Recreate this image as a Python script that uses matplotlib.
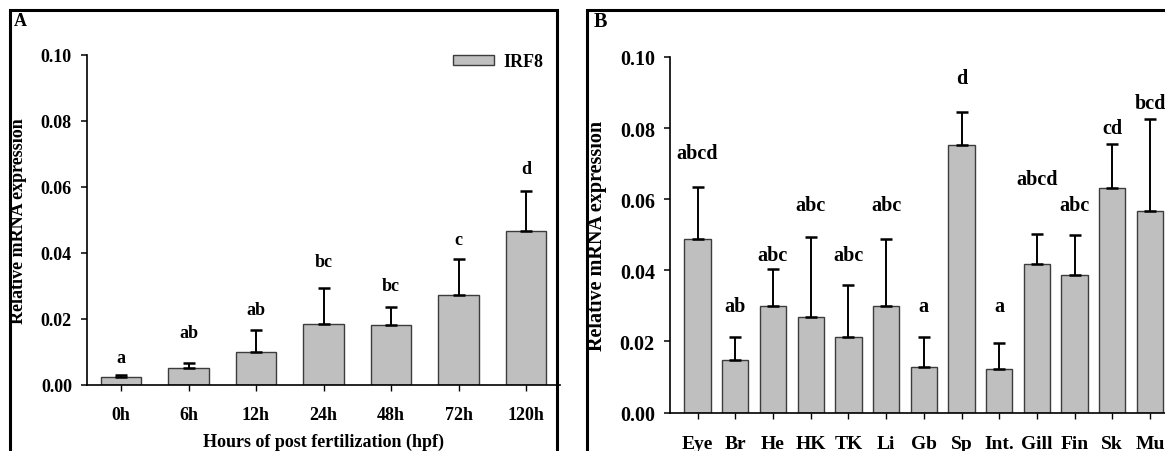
import matplotlib
matplotlib.use("Agg")
import matplotlib.pyplot as plt
from matplotlib.patches import Rectangle, Patch
import numpy as np

# ---------------- data ----------------
stages = ["0h", "6h", "12h", "24h", "48h", "72h", "120h"]
stage_mean = [0.0024, 0.0052, 0.0100, 0.0186, 0.0183, 0.0274, 0.0466]
stage_err = [0.0005, 0.0014, 0.0066, 0.0108, 0.0053, 0.0107, 0.0123]
stage_letters = ["a", "ab", "ab", "bc", "bc", "c", "d"]
stage_letter_y = [0.0083, 0.0158, 0.0229, 0.0373, 0.0301, 0.0442, 0.0657]

tissues = ["Eye", "Br", "He", "HK", "TK", "Li", "Gb", "Sp", "Int.", "Gill", "Fin", "Sk", "Mu"]
tissue_mean = [0.0489, 0.0148, 0.0300, 0.0269, 0.0211, 0.0300, 0.0129, 0.0752, 0.0121,
               0.0419, 0.0386, 0.0631, 0.0568]
tissue_err = [0.0145, 0.0063, 0.0103, 0.0224, 0.0149, 0.0189, 0.0084, 0.0092, 0.0075,
              0.0083, 0.0114, 0.0123, 0.0257]
tissue_letters = ["abcd", "ab", "abc", "abc", "abc", "abc", "a", "d", "a", "abcd", "abc", "cd", "bcd"]
tissue_letter_y = [0.0729, 0.0300, 0.0442, 0.0585, 0.0442, 0.0585, 0.0300, 0.0942, 0.0300,
                   0.0657, 0.0585, 0.0799, 0.0870]

yticks = [0.00, 0.02, 0.04, 0.06, 0.08, 0.10]
ytick_labels = ["0.00", "0.02", "0.04", "0.06", "0.08", "0.10"]
series_name = "IRF8"

# ---------------- style ----------------
plt.rcParams['font.family'] = ['Liberation Serif', 'DejaVu Serif']
plt.rcParams['font.weight'] = 'bold'
FS_A = 13
FS_B = 14.5
BAR_FC = "#bfbfbf"
BAR_EC = "#3c3c3c"

W, H = 1165, 452
fig = plt.figure(figsize=(W / 100, H / 100), dpi=100)


def fx(px):
    return px / W


def fy(py):
    return 1 - py / H


def style_axis(ax, xpad, fs):
    for s in ["top", "right"]:
        ax.spines[s].set_visible(False)
    for s in ["left", "bottom"]:
        ax.spines[s].set_linewidth(1.2)
        ax.spines[s].set_color("black")
    ax.set_ylim(0, 0.10)
    ax.set_yticks(yticks)
    ax.set_yticklabels(ytick_labels, fontsize=fs, fontweight='bold')
    ax.tick_params(axis='y', direction='out', length=4, width=1.1, pad=7)
    ax.tick_params(axis='x', direction='out', length=4, width=1.0, pad=xpad)
    ax.set_facecolor('none')


# ---------------- panel A ----------------
xa = np.arange(len(stages))
a_left, a_right = 87.25, 559.75
a_top, a_bot = 56, 386
axA = fig.add_axes([fx(a_left), fy(a_bot), fx(a_right - a_left), (a_bot - a_top) / H])
axA.bar(xa, stage_mean, width=0.6, color=BAR_FC, edgecolor=BAR_EC, linewidth=1.0, zorder=2)
axA.errorbar(xa, stage_mean, yerr=[np.zeros(len(xa)), stage_err], fmt='none',
             ecolor='black', elinewidth=1.4, capsize=4.3, capthick=1.8, zorder=3)
for xi, lab, ly in zip(xa, stage_letters, stage_letter_y):
    axA.text(xi, ly, lab, ha='center', va='center', fontsize=FS_A, fontweight='bold')
axA.set_xlim(-0.5, 6.5)
axA.set_xticks(xa)
axA.set_xticklabels(stages, fontsize=FS_A, fontweight='bold')
style_axis(axA, 11, FS_A)
axA.set_xlabel("Hours of post fertilization (hpf)", fontsize=FS_A, fontweight='bold', labelpad=7)
axA.set_ylabel("Relative mRNA expression", fontsize=FS_A, fontweight='bold', labelpad=10)
leg = axA.legend(handles=[Patch(facecolor=BAR_FC, edgecolor=BAR_EC, linewidth=1.0, label=series_name)],
                 loc='center left', bbox_to_anchor=(fx(453), fy(63)), bbox_transform=fig.transFigure,
                 frameon=False, borderpad=0, borderaxespad=0, handlelength=2.25, handleheight=0.5,
                 handletextpad=0.55, prop={'size': FS_A, 'weight': 'bold'})

# ---------------- panel B ----------------
xb = np.arange(len(tissues))
sp = 37.7
b_x0 = 697.6
b_left = b_x0 - 0.73 * sp
b_right = b_x0 + 12.6 * sp
b_top, b_bot = 58, 413.5
axB = fig.add_axes([fx(b_left), fy(b_bot), fx(b_right - b_left), (b_bot - b_top) / H])
axB.bar(xb, tissue_mean, width=0.7, color=BAR_FC, edgecolor=BAR_EC, linewidth=1.0, zorder=2)
axB.errorbar(xb, tissue_mean, yerr=[np.zeros(len(xb)), tissue_err], fmt='none',
             ecolor='black', elinewidth=1.4, capsize=4.6, capthick=1.8, zorder=3)
for xi, lab, ly in zip(xb, tissue_letters, tissue_letter_y):
    axB.text(xi, ly, lab, ha='center', va='center', fontsize=FS_B, fontweight='bold')
axB.set_xlim(-0.73, 12.6)
axB.set_xticks(xb)
axB.set_xticklabels(tissues, fontsize=14, fontweight='bold')
style_axis(axB, 12, FS_B)
axB.set_ylabel("Relative mRNA expression", fontsize=FS_B, fontweight='bold', labelpad=9)

# ---------------- panel frames & labels ----------------
fig.add_artist(Rectangle((fx(10), fy(470)), fx(557 - 10), (470 - 11) / H, transform=fig.transFigure,
                         fill=False, edgecolor='black', linewidth=2.2, zorder=10))
fig.add_artist(Rectangle((fx(587), fy(470)), fx(1200 - 587), (470 - 11) / H, transform=fig.transFigure,
                         fill=False, edgecolor='black', linewidth=2.2, zorder=10))
fig.text(fx(14), fy(22), "A", fontsize=FS_A, fontweight='bold', ha='left', va='center')
fig.text(fx(594), fy(22), "B", fontsize=FS_B, fontweight='bold', ha='left', va='center')

fig.savefig("out.png", dpi=100)
